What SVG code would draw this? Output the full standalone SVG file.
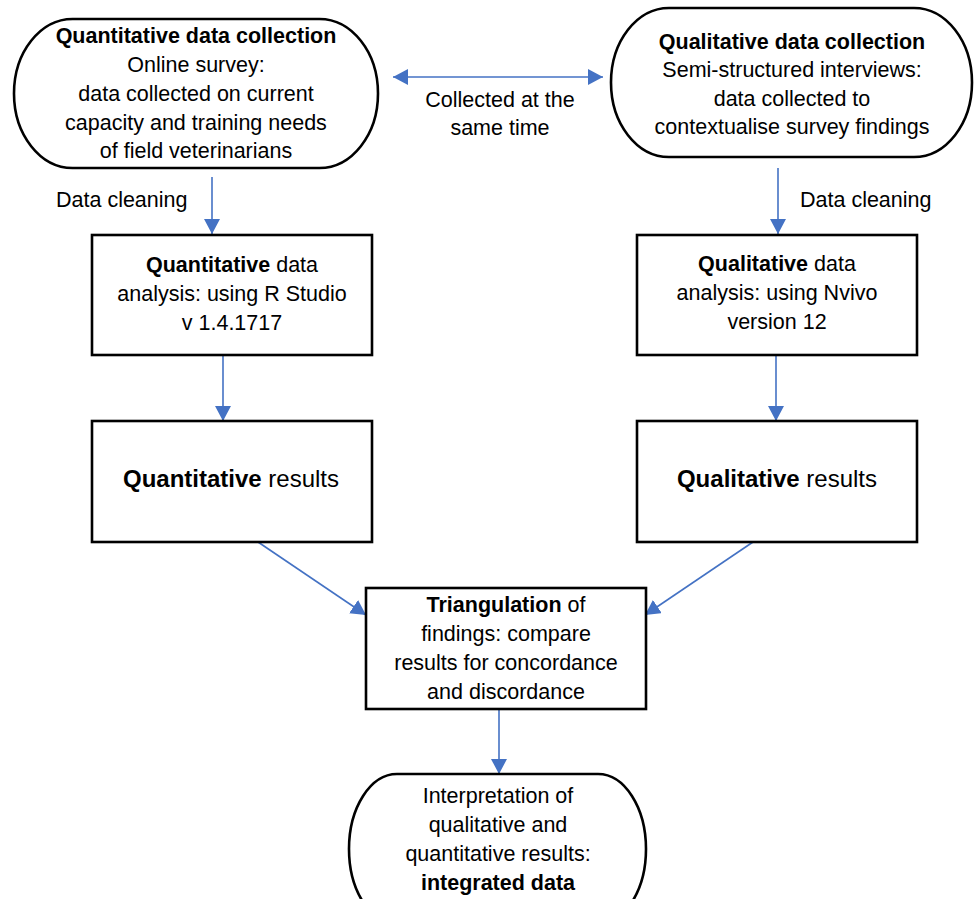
<svg xmlns="http://www.w3.org/2000/svg" width="975" height="899" viewBox="0 0 975 899">
<defs>
<style>
.box{fill:#fff;stroke:#000;stroke-width:2.6}
.t{font-family:"Liberation Sans",Arial,sans-serif;font-size:21.5px;fill:#000;text-anchor:middle}
.l{text-anchor:start}
.big{font-size:24px}
.b{font-weight:bold}
.c{stroke:#4472C4;stroke-width:1.6;fill:none;marker-end:url(#ah)}
</style>
<marker id="ah" viewBox="0 0 15 16" refX="15" refY="8" markerWidth="15" markerHeight="16" markerUnits="userSpaceOnUse" orient="auto-start-reverse">
<path d="M0,0 L15,8 L0,16 z" fill="#4472C4"/>
</marker>
</defs>
<rect width="975" height="899" fill="#fff"/>
<g id="connectors">
<line class="c" x1="393" y1="77" x2="603" y2="77" marker-start="url(#ah)"/>
<line class="c" x1="212" y1="177" x2="212" y2="234"/>
<line class="c" x1="778" y1="168" x2="778" y2="234"/>
<line class="c" x1="223" y1="355" x2="223" y2="421"/>
<line class="c" x1="776" y1="355" x2="776" y2="421"/>
<line class="c" x1="258" y1="542" x2="366" y2="615"/>
<line class="c" x1="753" y1="542" x2="645" y2="615"/>
<line class="c" x1="499" y1="709" x2="499" y2="774"/>
<text class="t" x="500" y="107">Collected at the</text>
<text class="t" x="500" y="135">same time</text>
<text class="t l" x="56" y="207">Data cleaning</text>
<text class="t l" x="800" y="207">Data cleaning</text>
</g>
<g id="quant-collection">
<rect class="box" x="14" y="19" width="364" height="149" rx="58.6" ry="74.5"/>
<text class="t b" x="196" y="43">Quantitative data collection</text>
<text class="t" x="196" y="72">Online survey:</text>
<text class="t" x="196" y="101">data collected on current</text>
<text class="t" x="196" y="129.5">capacity and training needs</text>
<text class="t" x="196" y="158">of field veterinarians</text>
</g>
<g id="qual-collection">
<rect class="box" x="611" y="8" width="361" height="149" rx="58" ry="74.5"/>
<text class="t b" x="792" y="49">Qualitative data collection</text>
<text class="t" x="792" y="77">Semi-structured interviews:</text>
<text class="t" x="792" y="106">data collected to</text>
<text class="t" x="792" y="134">contextualise survey findings</text>
</g>
<g id="quant-analysis">
<rect class="box" x="92" y="235" width="280" height="120"/>
<text class="t" x="232" y="272"><tspan class="b">Quantitative</tspan> data</text>
<text class="t" x="232" y="301">analysis: using R Studio</text>
<text class="t" x="232" y="330">v 1.4.1717</text>
</g>
<g id="qual-analysis">
<rect class="box" x="637" y="235" width="280" height="120"/>
<text class="t" x="777" y="271"><tspan class="b">Qualitative</tspan> data</text>
<text class="t" x="777" y="300">analysis: using Nvivo</text>
<text class="t" x="777" y="329">version 12</text>
</g>
<g id="quant-results">
<rect class="box" x="92" y="421" width="280" height="121"/>
<text class="t big" x="231" y="487"><tspan class="b">Quantitative</tspan> results</text>
</g>
<g id="qual-results">
<rect class="box" x="637" y="421" width="280" height="121"/>
<text class="t big" x="777" y="487"><tspan class="b">Qualitative</tspan> results</text>
</g>
<g id="triangulation">
<rect class="box" x="366" y="588" width="280" height="121"/>
<text class="t" x="506" y="612"><tspan class="b">Triangulation</tspan> of</text>
<text class="t" x="506" y="641">findings: compare</text>
<text class="t" x="506" y="670">results for concordance</text>
<text class="t" x="506" y="699">and discordance</text>
</g>
<g id="interpretation">
<rect class="box" x="349" y="774" width="297" height="150" rx="48" ry="75"/>
<text class="t" x="498" y="803">Interpretation of</text>
<text class="t" x="498" y="832">qualitative and</text>
<text class="t" x="498" y="861">quantitative results:</text>
<text class="t b" x="498" y="890">integrated data</text>
</g>
</svg>
